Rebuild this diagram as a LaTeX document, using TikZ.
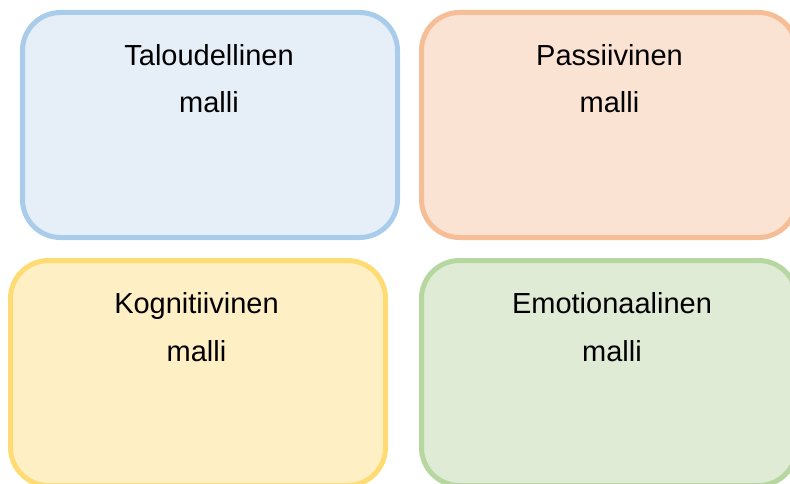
\documentclass[tikz,border=0pt]{standalone}
\usepackage{fontspec}
\setmainfont{Liberation Sans}
\definecolor{bfill}{RGB}{230,238,248}
\definecolor{bline}{RGB}{168,204,234}
\definecolor{ofill}{RGB}{251,227,211}
\definecolor{oline}{RGB}{246,190,150}
\definecolor{yfill}{RGB}{255,239,196}
\definecolor{yline}{RGB}{255,220,115}
\definecolor{gfill}{RGB}{224,235,214}
\definecolor{gline}{RGB}{182,215,160}
\begin{document}
\begin{tikzpicture}[x=1pt,y=-1pt,
  card/.style={rectangle,rounded corners=38pt,line width=5pt,minimum width=375pt,minimum height=225pt,inner sep=0pt,outer sep=0pt},
  lbl/.style={anchor=base,inner sep=0pt,font=\fontsize{29pt}{35pt}\selectfont,text=black}]
\useasboundingbox (0,0) rectangle (790,484);
\clip (0,0) rectangle (790,484);
\node[card,draw=bline,fill=bfill] (b1) at (210,125) {};
\node[card,draw=oline,fill=ofill] (b2) at (609,125) {};
\node[card,draw=yline,fill=yfill] (b3) at (198,373) {};
\node[card,draw=gline,fill=gfill] (b4) at (609,373) {};
\node[lbl] (t1) at (209,66) {Taloudellinen};
\node[lbl] (m1) at (209,112.7) {malli};
\node[lbl] (t2) at (609.5,66) {Passiivinen};
\node[lbl] (m2) at (609.5,112.7) {malli};
\node[lbl] (t3) at (196.5,313) {Kognitiivinen};
\node[lbl] (m3) at (196.5,361) {malli};
\node[lbl] (t4) at (612,313) {Emotionaalinen};
\node[lbl] (m4) at (612,361) {malli};
\end{tikzpicture}
\end{document}
